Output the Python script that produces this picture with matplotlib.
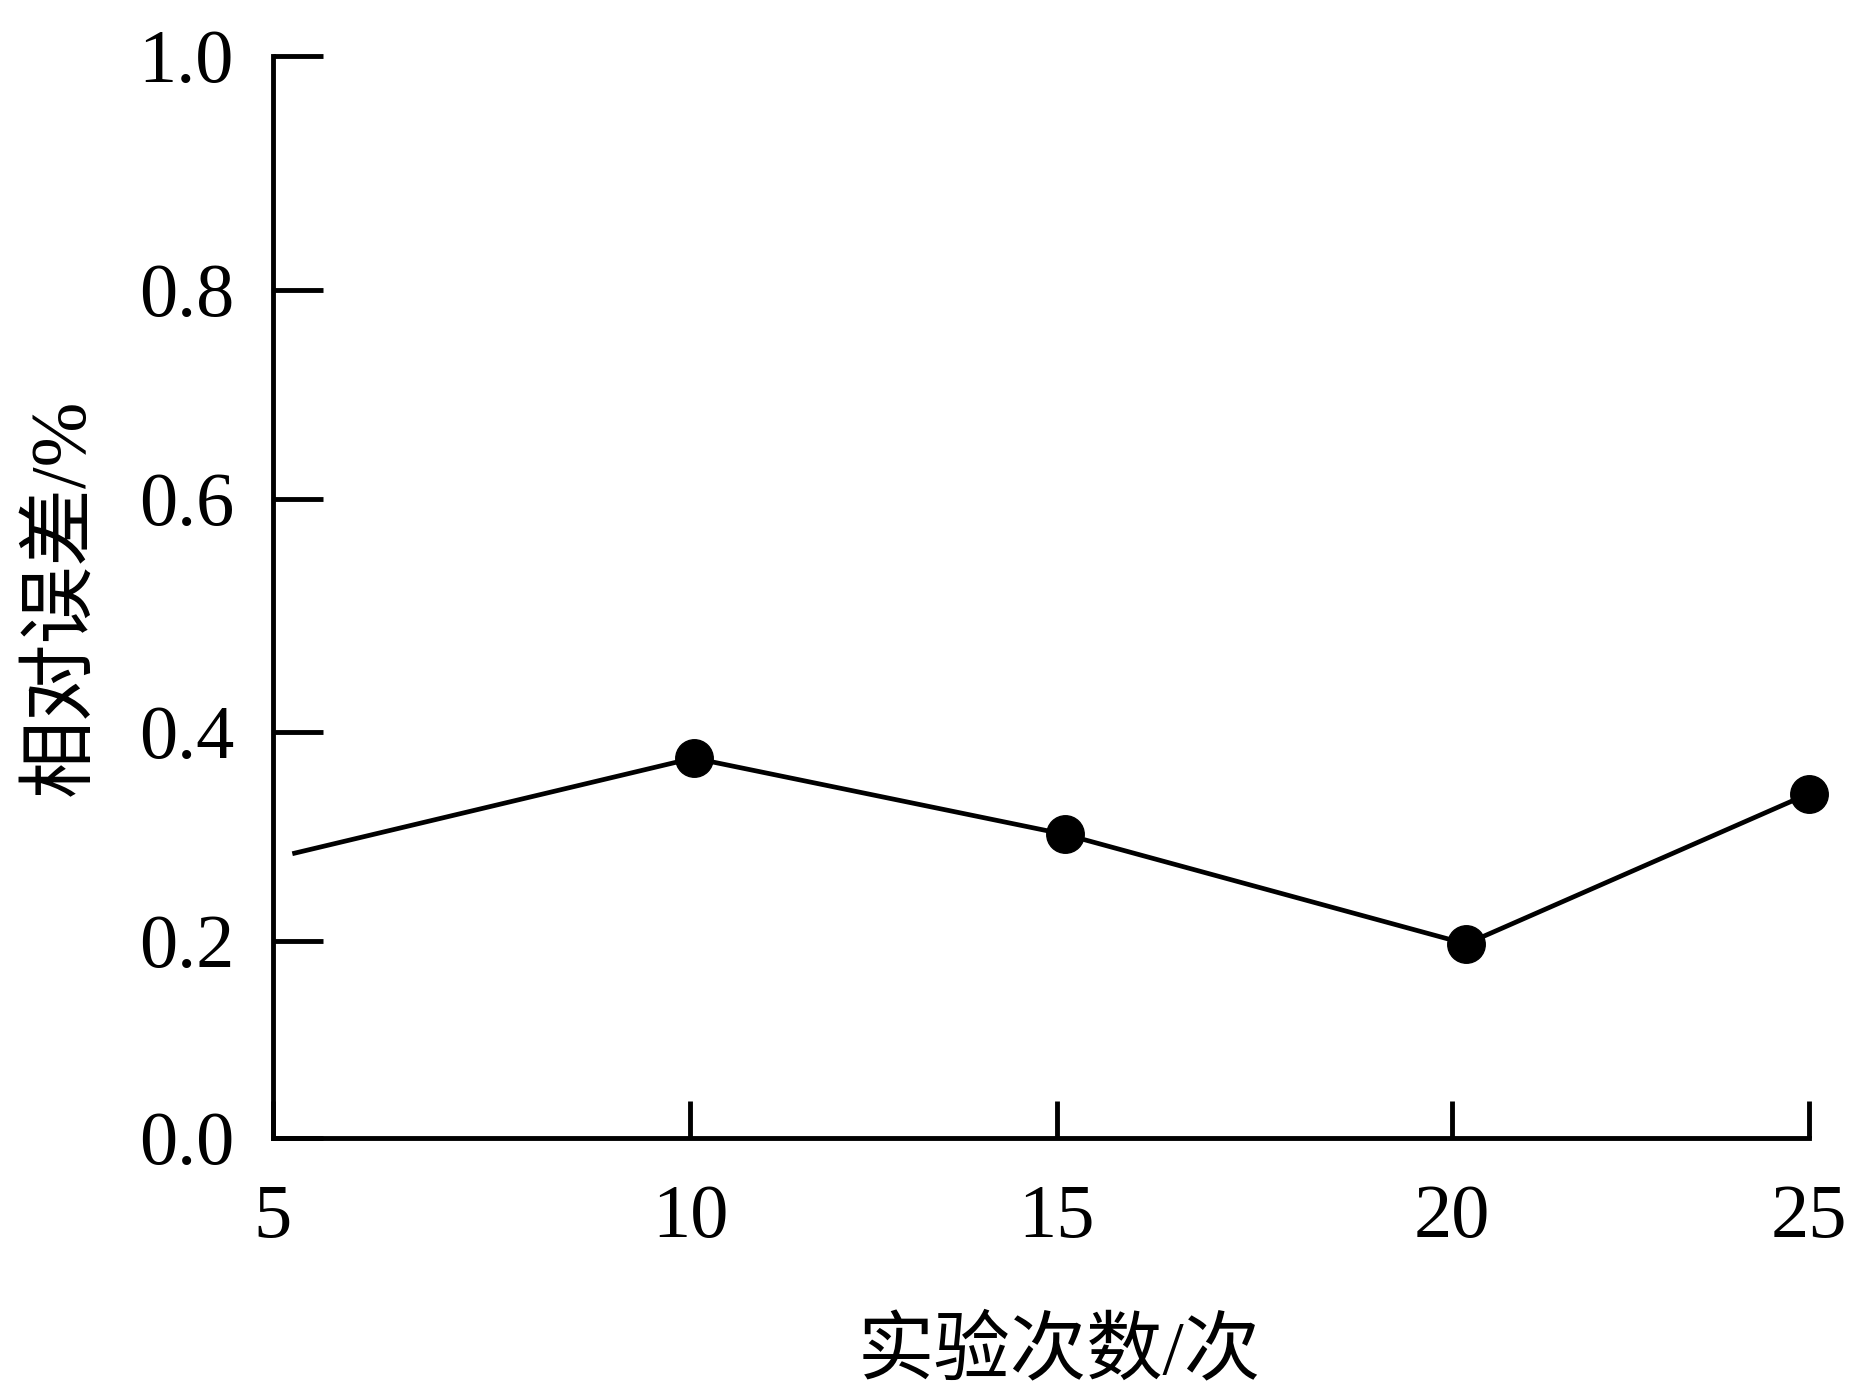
import numpy as np
import matplotlib
matplotlib.use("Agg")
import matplotlib.pyplot as plt

# 数据
runs = [5.26, 10.05, 15.1, 20.2, 25.05]
rel_error = [0.284, 0.375, 0.302, 0.197, 0.341]

x_ticks = [5, 10, 15, 20, 25]
y_ticks = [0.0, 0.2, 0.4, 0.6, 0.8, 1.0]
x_label = "实验次数/次"
y_label = "相对误差/%"

# 原图刻度间距不均匀，用分段线性映射还原
x_tick_frac = np.array([0, 417, 784, 1179, 1536]) / 1536
y_tick_frac = np.array([0, 197, 406, 639, 848, 1082]) / 1082


def make_scale(ticks, frac):
    ticks = np.asarray(ticks, dtype=float)

    def forward(v):
        return np.interp(v, ticks, frac)

    def inverse(v):
        return np.interp(v, frac, ticks)

    return forward, inverse


plt.rcParams['font.family'] = ['Liberation Serif', 'Noto Sans CJK SC']
plt.rcParams['axes.unicode_minus'] = False

fig = plt.figure(figsize=(18.63, 13.99), dpi=100)
ax = fig.add_axes([0.1465, 0.1866, 0.8245, 0.7734])

ax.set_xscale('function', functions=make_scale(x_ticks, x_tick_frac))
ax.set_yscale('function', functions=make_scale(y_ticks, y_tick_frac))

ax.plot(runs, rel_error, color='black', linewidth=3.4,
        marker='o', markersize=27, markevery=[1, 2, 3, 4],
        zorder=3, clip_on=False)

ax.set_xlim(5, 25)
ax.set_ylim(0, 1.0)
ax.set_xticks(x_ticks)
ax.set_xticklabels([str(t) for t in x_ticks])
ax.set_yticks(y_ticks)
ax.set_yticklabels([f"{t:.1f}" for t in y_ticks])
ax.minorticks_off()

for side in ['top', 'right']:
    ax.spines[side].set_visible(False)
for side in ['left', 'bottom']:
    ax.spines[side].set_linewidth(3.5)

ax.tick_params(axis='y', direction='in', length=36, width=3.5, pad=28, labelsize=55)
ax.tick_params(axis='x', direction='in', length=27, width=3.5, pad=33, labelsize=55)

ax.set_xlabel(x_label, fontsize=55)
ax.xaxis.set_label_coords(0.512, -0.166)
ax.set_ylabel(y_label, fontsize=56, labelpad=28)

fig.savefig("out.png", dpi=100)
plt.close(fig)
